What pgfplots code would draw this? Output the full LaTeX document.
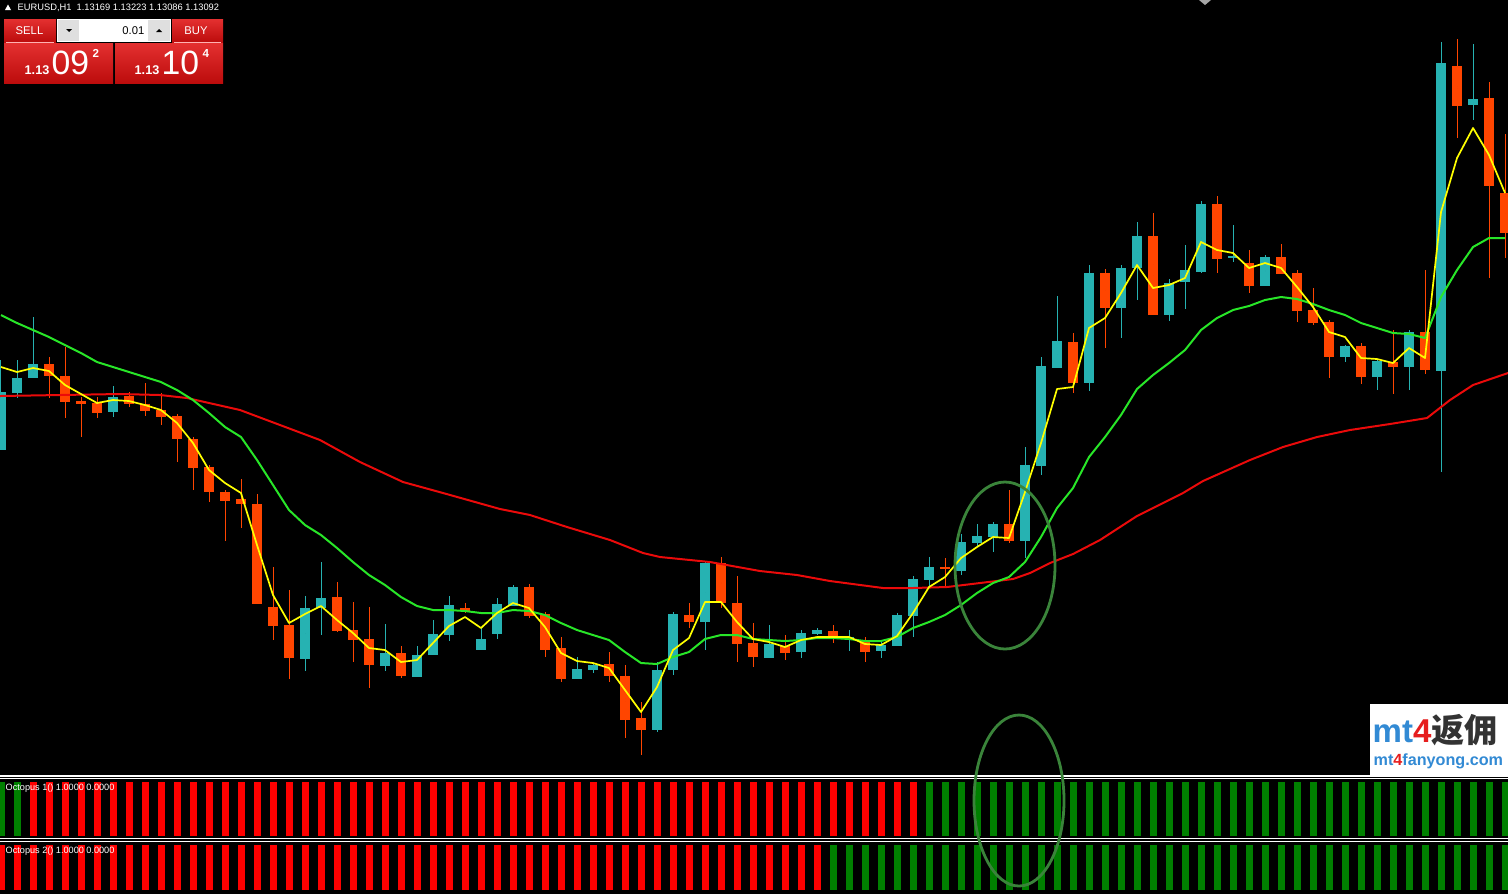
\documentclass[border=0pt]{standalone}
\usepackage{pgfplots}
\usepackage{pgfplotstable}
\pgfplotsset{compat=1.18}
\usepackage{fontspec}
\setmainfont{Liberation Sans}
\newfontfamily\cjk{Noto Sans CJK SC}
\definecolor{bull}{RGB}{38,178,178}
\definecolor{bear}{RGB}{255,69,0}
\definecolor{maY}{RGB}{255,255,0}
\definecolor{maG}{RGB}{40,230,40}
\definecolor{maR}{RGB}{235,10,10}
\definecolor{ringG}{RGB}{58,132,58}
\definecolor{barR}{RGB}{255,0,0}
\definecolor{barG}{RGB}{0,128,0}
\definecolor{btnTop}{RGB}{228,48,48}
\definecolor{btnBot}{RGB}{188,12,12}
\definecolor{logoB}{RGB}{50,138,212}
\definecolor{logoR}{RGB}{230,30,30}

\pgfplotsset{
  segs/.style n args={2}{only marks, mark size=0pt, mark options={draw=none, fill=none}, forget plot,
    error bars/.cd, y dir=both, y explicit, error mark=none,
    error bar style={draw=#1, line width=#2}},
}

% candles, values in chart pixel rows (top = 0)
\pgfplotstableread{
i o h l c
0 450 360 450 392
1 393 360 398 378
2 378 317 378 364
3 364 357 398 376
4 376 347 418 402
5 401 397 437 404
6 403 397 418 413
7 412 386 417 397
8 396 392 407 404
9 404 383 416 411
10 410 393 425 417
11 416 414 462 439
12 439 437 490 468
13 467 465 502 492
14 492 490 541 501
15 499 479 528 504
16 504 494 604 604
17 607 567 640 626
18 625 590 679 658
19 659 596 671 608
20 608 562 635 598
21 597 582 632 631
22 630 602 662 640
23 639 607 688 665
24 666 624 671 653
25 653 646 678 676
26 677 646 677 655
27 655 620 655 634
28 635 596 641 605
29 608 603 613 611
30 650 628 650 639
31 634 598 639 604
32 606 585 606 587
33 587 584 618 616
34 614 612 657 650
35 648 637 682 679
36 679 657 679 669
37 670 663 673 665
38 664 652 682 676
39 676 665 738 720
40 718 702 755 730
41 730 662 732 670
42 670 612 675 614
43 615 603 628 622
44 622 561 650 563
45 563 557 608 603
46 603 576 662 644
47 643 623 667 657
48 658 625 658 644
49 646 635 660 653
50 652 630 658 633
51 634 628 635 630
52 631 625 643 636
53 638 630 651 637
54 641 637 662 652
55 651 640 658 645
56 646 613 646 615
57 616 576 637 579
58 580 557 587 567
59 567 558 588 569
60 571 534 575 542
61 543 524 547 536
62 537 522 552 524
63 524 490 543 541
64 541 447 558 465
65 466 357 475 366
66 368 296 368 341
67 342 333 393 383
68 383 265 391 273
69 273 269 348 308
70 308 265 338 268
71 268 222 300 236
72 236 213 315 315
73 315 279 321 283
74 282 245 309 270
75 272 201 273 204
76 204 196 273 259
77 258 225 262 256
78 263 250 293 286
79 286 255 286 257
80 257 244 274 274
81 273 270 322 311
82 310 288 325 323
83 322 320 378 357
84 357 345 362 346
85 346 343 384 377
86 377 360 390 361
87 362 330 394 367
88 367 330 390 332
89 332 270 374 370
90 371 42 472 63
91 66 39 138 106
92 105 44 120 99
93 98 82 278 186
94 193 134 258 233
}\candles

% fast (yellow) and medium (green) moving averages
\pgfplotstableread{
i y g
0 367 315
1 372 323
2 368 330
3 371 337
4 385 345
5 394 353
6 403 362
7 400 367
8 401 372
9 405 377
10 410 382
11 423 390
12 443 400
13 470 413
14 483 427
15 493 437
16 545 460
17 595 485
18 623 510
19 614 525
20 606 535
21 620 548
22 633 562
23 648 575
24 650 585
25 662 597
26 660 606
27 643 610
28 626 610
29 617 611
30 628 613
31 613 613
32 603 610
33 608 611
34 627 615
35 653 623
36 661 630
37 663 635
38 668 640
39 690 652
40 712 663
41 687 664
42 650 657
43 638 652
44 602 639
45 602 635
46 622 635
47 639 639
48 642 640
49 647 641
50 640 640
51 637 638
52 637 638
53 637 639
54 644 641
55 645 641
56 636 637
57 613 628
58 587 622
59 577 615
60 558 605
61 547 593
62 537 583
63 538 577
64 492 562
65 443 537
66 389 508
67 387 488
68 328 457
69 318 437
70 293 415
71 265 389
72 288 375
73 285 363
74 278 350
75 242 330
76 250 318
77 253 310
78 268 306
79 263 300
80 268 297
81 287 299
82 307 304
83 332 310
84 337 315
85 358 323
86 359 328
87 363 333
88 348 334
89 358 338
90 212 297
91 158 270
92 128 247
93 155 238
94 193 238
}\mas

% slow (red) moving average, sampled along the chart
\pgfplotstableread{
x y
0 396
60 395
120 394
160 395
187 398
240 410
280 425
320 440
360 462
403 482
443 493
500 509
530 515
567 527
610 540
643 553
660 557
710 562
760 571
797 575
830 581
883 588
913 588
947 587
980 583
1013 579
1030 573
1050 563
1073 554
1100 540
1137 516
1183 493
1203 481
1250 460
1283 447
1317 437
1350 430
1390 424
1427 418
1450 400
1473 385
1508 373
}\slowma

% Octopus 1 / Octopus 2 states (1 = green, 0 = red)
\pgfplotstableread{
i s1 s2
0 1 0
1 1 0
2 0 0
3 0 0
4 0 0
5 0 0
6 0 0
7 0 0
8 0 0
9 0 0
10 0 0
11 0 0
12 0 0
13 0 0
14 0 0
15 0 0
16 0 0
17 0 0
18 0 0
19 0 0
20 0 0
21 0 0
22 0 0
23 0 0
24 0 0
25 0 0
26 0 0
27 0 0
28 0 0
29 0 0
30 0 0
31 0 0
32 0 0
33 0 0
34 0 0
35 0 0
36 0 0
37 0 0
38 0 0
39 0 0
40 0 0
41 0 0
42 0 0
43 0 0
44 0 0
45 0 0
46 0 0
47 0 0
48 0 0
49 0 0
50 0 0
51 0 0
52 0 1
53 0 1
54 0 1
55 0 1
56 0 1
57 0 1
58 1 1
59 1 1
60 1 1
61 1 1
62 1 1
63 1 1
64 1 1
65 1 1
66 1 1
67 1 1
68 1 1
69 1 1
70 1 1
71 1 1
72 1 1
73 1 1
74 1 1
75 1 1
76 1 1
77 1 1
78 1 1
79 1 1
80 1 1
81 1 1
82 1 1
83 1 1
84 1 1
85 1 1
86 1 1
87 1 1
88 1 1
89 1 1
90 1 1
91 1 1
92 1 1
93 1 1
94 1 1
}\octo

\begin{document}
\begin{tikzpicture}
\fill[black] (0,0) rectangle (150.8mm,89.4mm);
\begin{axis}[at={(0,0)}, anchor=south west, scale only axis,
  width=150.8mm, height=89.4mm,
  xmin=0, xmax=1508, ymin=0, ymax=894, y dir=reverse,
  hide axis, clip=true]

% ---- wicks
\addplot[segs={bull}{0.1mm}]
  table[x expr=1+16*\thisrow{i},
        y expr={\thisrow{c}<=\thisrow{o} ? (\thisrow{h}+\thisrow{l})/2 : nan},
        y error expr=(\thisrow{l}-\thisrow{h})/2] {\candles};
\addplot[segs={bear}{0.1mm}]
  table[x expr=1+16*\thisrow{i},
        y expr={\thisrow{c}>\thisrow{o} ? (\thisrow{h}+\thisrow{l})/2 : nan},
        y error expr=(\thisrow{l}-\thisrow{h})/2] {\candles};
% ---- bodies
\addplot[segs={bull}{1.08mm}]
  table[x expr=1+16*\thisrow{i},
        y expr={\thisrow{c}<=\thisrow{o} ? (\thisrow{o}+\thisrow{c})/2 : nan},
        y error expr={max(abs(\thisrow{o}-\thisrow{c})/2,0.7)}] {\candles};
\addplot[segs={bear}{1.08mm}]
  table[x expr=1+16*\thisrow{i},
        y expr={\thisrow{c}>\thisrow{o} ? (\thisrow{o}+\thisrow{c})/2 : nan},
        y error expr={max(abs(\thisrow{o}-\thisrow{c})/2,0.7)}] {\candles};

% ---- moving averages
\addplot[maR, line width=0.2mm, line join=round, mark=none] table[x=x, y=y] {\slowma};
\addplot[maG, line width=0.2mm, line join=round, mark=none] table[x expr=1+16*\thisrow{i}, y=g] {\mas};
\addplot[maY, line width=0.17mm, line join=round, mark=none] table[x expr=1+16*\thisrow{i}, y=y] {\mas};

% ---- separators
\draw[white, line width=0.12mm] (axis cs:0,776) -- (axis cs:1508,776);
\draw[white, line width=0.12mm] (axis cs:0,778.7) -- (axis cs:1508,778.7);
\draw[white, line width=0.12mm] (axis cs:0,838.5) -- (axis cs:1508,838.5);
\draw[white, line width=0.12mm] (axis cs:0,841.2) -- (axis cs:1508,841.2);

% ---- Octopus panels
\addplot[segs={barG}{0.7mm}]
  table[x expr=1+16*\thisrow{i}, y expr={\thisrow{s1}>0 ? 809 : nan}, y error expr=27] {\octo};
\addplot[segs={barR}{0.7mm}]
  table[x expr=1+16*\thisrow{i}, y expr={\thisrow{s1}<1 ? 809 : nan}, y error expr=27] {\octo};
\addplot[segs={barG}{0.7mm}]
  table[x expr=1+16*\thisrow{i}, y expr={\thisrow{s2}>0 ? 867.5 : nan}, y error expr=22.5] {\octo};
\addplot[segs={barR}{0.7mm}]
  table[x expr=1+16*\thisrow{i}, y expr={\thisrow{s2}<1 ? 867.5 : nan}, y error expr=22.5] {\octo};

\node[anchor=west, white, inner sep=0, font=\fontsize{2.6}{3}\selectfont] at (axis cs:5,788) {Octopus 1() 1.0000 0.0000};
\node[anchor=west, white, inner sep=0, font=\fontsize{2.6}{3}\selectfont] at (axis cs:5,851) {Octopus 2() 1.0000 0.0000};

% ---- header text
\fill[white] (axis cs:5,10) -- (axis cs:11,10) -- (axis cs:8,4.5) -- cycle;
\node[anchor=west, white, inner sep=0, font=\fontsize{2.65}{3}\selectfont] at (axis cs:17,7.5) {EURUSD,H1\ \ 1.13169 1.13223 1.13086 1.13092};
\fill[gray!70] (axis cs:1199,0) -- (axis cs:1211,0) -- (axis cs:1205,5) -- cycle;

% ---- one-click trading panel
\shade[top color=btnTop, bottom color=btnBot] (axis cs:4,19) rectangle (axis cs:56,42);
\shade[top color=btnTop, bottom color=btnBot] (axis cs:172,19) rectangle (axis cs:223,42);
\fill[white] (axis cs:57,19) rectangle (axis cs:171,42);
\fill[gray!25] (axis cs:58,20) rectangle (axis cs:79,41);
\fill[gray!25] (axis cs:148,20) rectangle (axis cs:170,41);
\fill[black] (axis cs:66,29) -- (axis cs:72,29) -- (axis cs:69,32) -- cycle;
\fill[black] (axis cs:156,32) -- (axis cs:162,32) -- (axis cs:159,29) -- cycle;
\shade[top color=btnTop, bottom color=btnBot] (axis cs:4,43) rectangle (axis cs:113,83);
\shade[top color=btnTop, bottom color=btnBot] (axis cs:115,43) rectangle (axis cs:223,83);
\draw[white!70!red, line width=0.08mm] (axis cs:6,42) -- (axis cs:54,42);
\draw[white!70!red, line width=0.08mm] (axis cs:174,42) -- (axis cs:221,42);
\node[white, inner sep=0, font=\fontsize{3.2}{3.6}\selectfont] at (axis cs:29.5,30.5) {SELL};
\node[white, inner sep=0, font=\fontsize{3.2}{3.6}\selectfont] at (axis cs:196,30.5) {BUY};
\node[anchor=east, black, inner sep=0, font=\fontsize{3.2}{3.6}\selectfont] at (axis cs:145,30.5) {0.01};
\node[anchor=base west, white, inner sep=0, font=\bfseries\fontsize{3.6}{4}\selectfont] at (axis cs:24,74) {1.13};
\node[anchor=base west, white, inner sep=0, font=\fontsize{9.6}{10}\selectfont] at (axis cs:51,74) {09};
\node[anchor=base west, white, inner sep=0, font=\bfseries\fontsize{3.3}{4}\selectfont] at (axis cs:92,57.5) {2};
\node[anchor=base west, white, inner sep=0, font=\bfseries\fontsize{3.6}{4}\selectfont] at (axis cs:134,74) {1.13};
\node[anchor=base west, white, inner sep=0, font=\fontsize{9.6}{10}\selectfont] at (axis cs:161,74) {10};
\node[anchor=base west, white, inner sep=0, font=\bfseries\fontsize{3.3}{4}\selectfont] at (axis cs:202,57.5) {4};

% ---- watermark
\fill[white] (axis cs:1370,704) rectangle (axis cs:1508,776);
\node[anchor=base west, inner sep=0, font=\bfseries\fontsize{9.4}{10}\selectfont] at (axis cs:1372,742)
  {\textcolor{logoB}{mt}\textcolor{logoR}{4}\textcolor{black!80}{\cjk\bfseries 返佣}};
\node[anchor=base west, inner sep=0, font=\bfseries\fontsize{4.6}{5}\selectfont] at (axis cs:1373,765)
  {\textcolor{logoB}{mt}\textcolor{logoR}{4}\textcolor{logoB}{fanyong.com}};

% ---- highlight rings
\draw[ringG, line width=0.28mm] (axis cs:1005,565.5) ellipse [x radius=5mm, y radius=8.35mm];
\draw[ringG, line width=0.28mm] (axis cs:1019,800.5) ellipse [x radius=4.5mm, y radius=8.55mm];
\end{axis}
\end{tikzpicture}
\end{document}
